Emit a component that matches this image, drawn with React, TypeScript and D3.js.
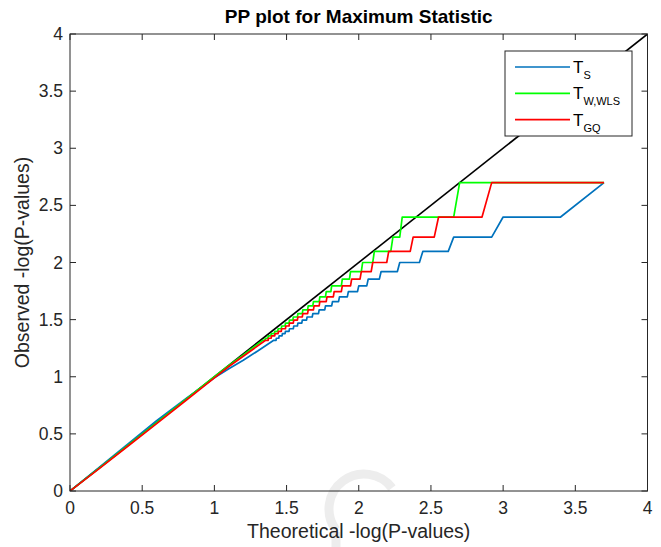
import React from "react";
import * as d3 from "d3";

// ---- Data ----
const nTheory = 5000;
// observed -log10(p) levels (p = k/500), highest first
const obsLevels = [2.699, 2.398, 2.222, 2.097, 2.0, 1.921, 1.854, 1.796, 1.745, 1.699, 1.658, 1.62, 1.585, 1.553, 1.523, 1.495, 1.469, 1.444, 1.42, 1.398, 1.377, 1.357, 1.337, 1.319];
// cumulative number of tests at or above each level
const cumTS = [1, 5, 11, 18, 26, 35, 43, 50, 59, 68, 76, 85, 94, 104, 114, 123, 132, 141, 151, 161, 169, 178, 186, 194];
const cumTW = [10, 25, 29, 39, 47, 57, 65, 77, 84, 93, 103, 112, 122, 132, 142, 151, 161, 171, 181, 191, 202, 212, 222, 232];
const cumGQ = [6, 14, 21, 31, 40, 48, 56, 65, 74, 83, 93, 102, 112, 122, 132, 141, 151, 160, 171, 180, 190, 201, 211, 221];
// lower part of each curve: [theoretical, observed]
const tailTS: [number, number][] = [[1.3, 1.225], [1.2, 1.145], [1.1, 1.07], [1.0, 0.99], [0.8, 0.805], [0.6, 0.615], [0.4, 0.41], [0.2, 0.205], [0, 0]];
const tailTW: [number, number][] = [[1.2, 1.19], [1.1, 1.1], [1.0, 1.0], [0.8, 0.8], [0.6, 0.598], [0.4, 0.398], [0.2, 0.198], [0, 0]];
const tailGQ: [number, number][] = [[1.2, 1.18], [1.1, 1.09], [1.0, 0.99], [0.8, 0.79], [0.6, 0.59], [0.4, 0.392], [0.2, 0.193], [0, 0]];
const ticks = [0, 0.5, 1, 1.5, 2, 2.5, 3, 3.5, 4];
const tickLabels = ["0", "0.5", "1", "1.5", "2", "2.5", "3", "3.5", "4"];
const titleText = "PP plot for Maximum Statistic";
const xLabel = "Theoretical -log(P-values)";
const yLabel = "Observed -log(P-values)";

function buildPoints(cum: number[], tail: [number, number][]): [number, number][] {
  const pts: [number, number][] = [];
  let prev = 0;
  cum.forEach((c, k) => {
    const start = prev + 1;
    pts.push([-Math.log10(start / nTheory), obsLevels[k]]);
    if (c !== start) pts.push([-Math.log10(c / nTheory), obsLevels[k]]);
    prev = c;
  });
  return pts.concat(tail);
}

const series = [
  { name: "S", color: "#0072BD", pts: buildPoints(cumTS, tailTS) },
  { name: "W,WLS", color: "#00FF00", pts: buildPoints(cumTW, tailTW) },
  { name: "GQ", color: "#FF0000", pts: buildPoints(cumGQ, tailGQ) },
];

export default function App() {
  const W = 661, H = 547;
  const left = 70, right = 647.5, top = 34, bottom = 491;
  const x = d3.scaleLinear().domain([0, 4]).range([left, right]);
  const y = d3.scaleLinear().domain([0, 4]).range([bottom, top]);
  const line = d3.line<[number, number]>().x((d) => x(d[0])).y((d) => y(d[1]));
  const axisColor = "#262626";
  const font = "'Liberation Sans', Arial, Helvetica, sans-serif";
  const tl = 6;
  const lx = 505, ly = 51, lw = 127, lh = 85;
  return (
    <svg width={W} height={H} style={{ position: "fixed", left: 0, top: 0, background: "#fff" }} fontFamily={font}>
      <rect x={0} y={0} width={W} height={H} fill="#fff" />
      {/* faint watermark */}
      <path d="M 336 530 A 32 32 0 0 1 392 488" fill="none" stroke="#ededed" strokeWidth={9} />
      <path d="M 336 547 L 336 532" fill="none" stroke="#ededed" strokeWidth={9} />
      {/* data */}
      <g clipPath="url(#clip)">
        <path d={line([[0, 0], [4, 4]]) || ""} fill="none" stroke="#000" strokeWidth={1.6} />
        {series.map((s) => (
          <path key={s.name} d={line(s.pts) || ""} fill="none" stroke={s.color} strokeWidth={1.7} strokeLinejoin="round" />
        ))}
      </g>
      <defs>
        <clipPath id="clip">
          <rect x={left} y={top} width={right - left} height={bottom - top} />
        </clipPath>
      </defs>
      {/* box */}
      <rect x={left} y={top} width={right - left} height={bottom - top} fill="none" stroke={axisColor} strokeWidth={1} />
      {ticks.map((t, i) => (
        <g key={"x" + i}>
          <line x1={x(t)} x2={x(t)} y1={bottom} y2={bottom - tl} stroke={axisColor} />
          <line x1={x(t)} x2={x(t)} y1={top} y2={top + tl} stroke={axisColor} />
          <text x={x(t)} y={bottom + 23} fontSize={17.5} fill={axisColor} textAnchor="middle">{tickLabels[i]}</text>
        </g>
      ))}
      {ticks.map((t, i) => (
        <g key={"y" + i}>
          <line x1={left} x2={left + tl} y1={y(t)} y2={y(t)} stroke={axisColor} />
          <line x1={right} x2={right - tl} y1={y(t)} y2={y(t)} stroke={axisColor} />
          <text x={left - 7} y={y(t) + 6} fontSize={17.5} fill={axisColor} textAnchor="end">{tickLabels[i]}</text>
        </g>
      ))}
      <text x={(left + right) / 2} y={23} fontSize={19} fontWeight="bold" fill="#000" textAnchor="middle">{titleText}</text>
      <text x={(left + right) / 2} y={538} fontSize={19.5} fill={axisColor} textAnchor="middle">{xLabel}</text>
      <text transform={`translate(29, ${(top + bottom) / 2}) rotate(-90)`} fontSize={19.5} fill={axisColor} textAnchor="middle">{yLabel}</text>
      {/* legend */}
      <rect x={lx} y={ly} width={lw} height={lh} fill="#fff" stroke={axisColor} strokeWidth={1} />
      {series.map((s, i) => {
        const yy = ly + 16 + i * 26.3;
        return (
          <g key={"lg" + i}>
            <line x1={lx + 10} x2={lx + 65} y1={yy} y2={yy} stroke={s.color} strokeWidth={1.7} />
            <text x={lx + 68} y={yy + 6} fontSize={17} fill="#000">
              T<tspan fontSize={11} dy={6}>{s.name}</tspan>
            </text>
          </g>
        );
      })}
    </svg>
  );
}
